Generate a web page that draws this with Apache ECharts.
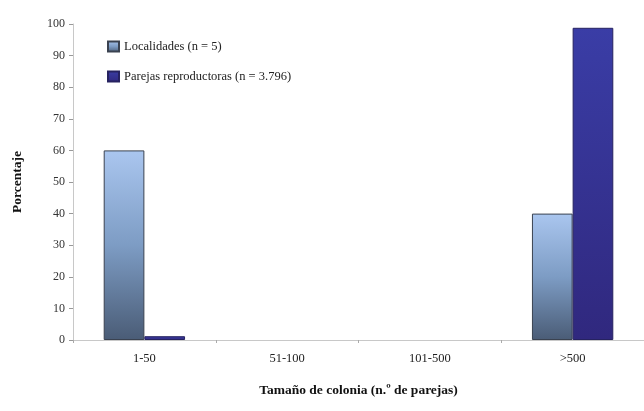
<!DOCTYPE html>
<html><head><meta charset="utf-8">
<script src="https://cdn.jsdelivr.net/npm/echarts@6/dist/echarts.min.js"></script>
<style>html,body{margin:0;padding:0;background:#fff}#c{width:644px;height:411px}</style>
</head><body><div id="c"></div>
<script>
const categories = ['1-50', '51-100', '101-500', '>500'];
const localidades = [60, 0, 0, 40];
const parejas = [1.2, 0, 0, 98.8];
const yTicks = [0, 10, 20, 30, 40, 50, 60, 70, 80, 90, 100];
const names = ['Localidades (n = 5)', 'Parejas reproductoras (n = 3.796)'];

const font = '"Liberation Serif", "Times New Roman", serif';
const hideZero = arr => arr.map(v => v === 0 ? '-' : v);
const chart = echarts.init(document.getElementById('c'));
chart.setOption({
  animation: false,
  grid: { left: 73, right: 0, top: 24, bottom: 71 },
  legend: {
    orient: 'vertical', left: 102, top: 35, itemGap: 17,
    itemWidth: 11, itemHeight: 10, icon: 'rect',
    textStyle: { fontFamily: font, fontSize: 12.5, color: '#222' },
    data: names
  },
  xAxis: {
    type: 'category', data: categories,
    axisLine: { lineStyle: { color: '#c8c8c8' } },
    axisTick: { show: true, length: 3, lineStyle: { color: '#aaa' } },
    axisLabel: { fontFamily: font, fontSize: 12.5, color: '#222', margin: 12 },
    name: 'Tamaño de colonia (n.º de parejas)', nameLocation: 'middle', nameGap: 44,
    nameTextStyle: { fontFamily: font, fontSize: 13.5, fontWeight: 'bold', color: '#111' }
  },
  yAxis: {
    type: 'value', min: 0, max: 100, interval: 10,
    axisLine: { show: true, lineStyle: { color: '#c8c8c8' } },
    axisTick: { show: true, length: 4, lineStyle: { color: '#999' } },
    splitLine: { show: false },
    axisLabel: { fontFamily: font, fontSize: 12, color: '#333', margin: 8,
      formatter: v => yTicks.includes(v) ? String(v) : '' },
    name: 'Porcentaje', nameLocation: 'middle', nameGap: 48, nameRotate: 90,
    nameTextStyle: { fontFamily: font, fontSize: 13.5, fontWeight: 'bold', color: '#111' }
  },
  series: [
    { name: names[0], type: 'bar', data: hideZero(localidades), barGap: '0%', barCategoryGap: '43%',
      itemStyle: {
        color: new echarts.graphic.LinearGradient(0, 0, 0, 1, [
          { offset: 0, color: '#aac6ef' }, { offset: 0.5, color: '#7d9cc4' }, { offset: 1, color: '#4a5c76' }
        ]),
        borderColor: '#3a4250', borderWidth: 1
      }
    },
    { name: names[1], type: 'bar', data: hideZero(parejas),
      itemStyle: {
        color: new echarts.graphic.LinearGradient(0, 0, 0, 1, [
          { offset: 0, color: '#3a3da6' }, { offset: 1, color: '#30287e' }
        ]),
        borderColor: '#262260', borderWidth: 1
      }
    }
  ]
});
</script></body></html>
